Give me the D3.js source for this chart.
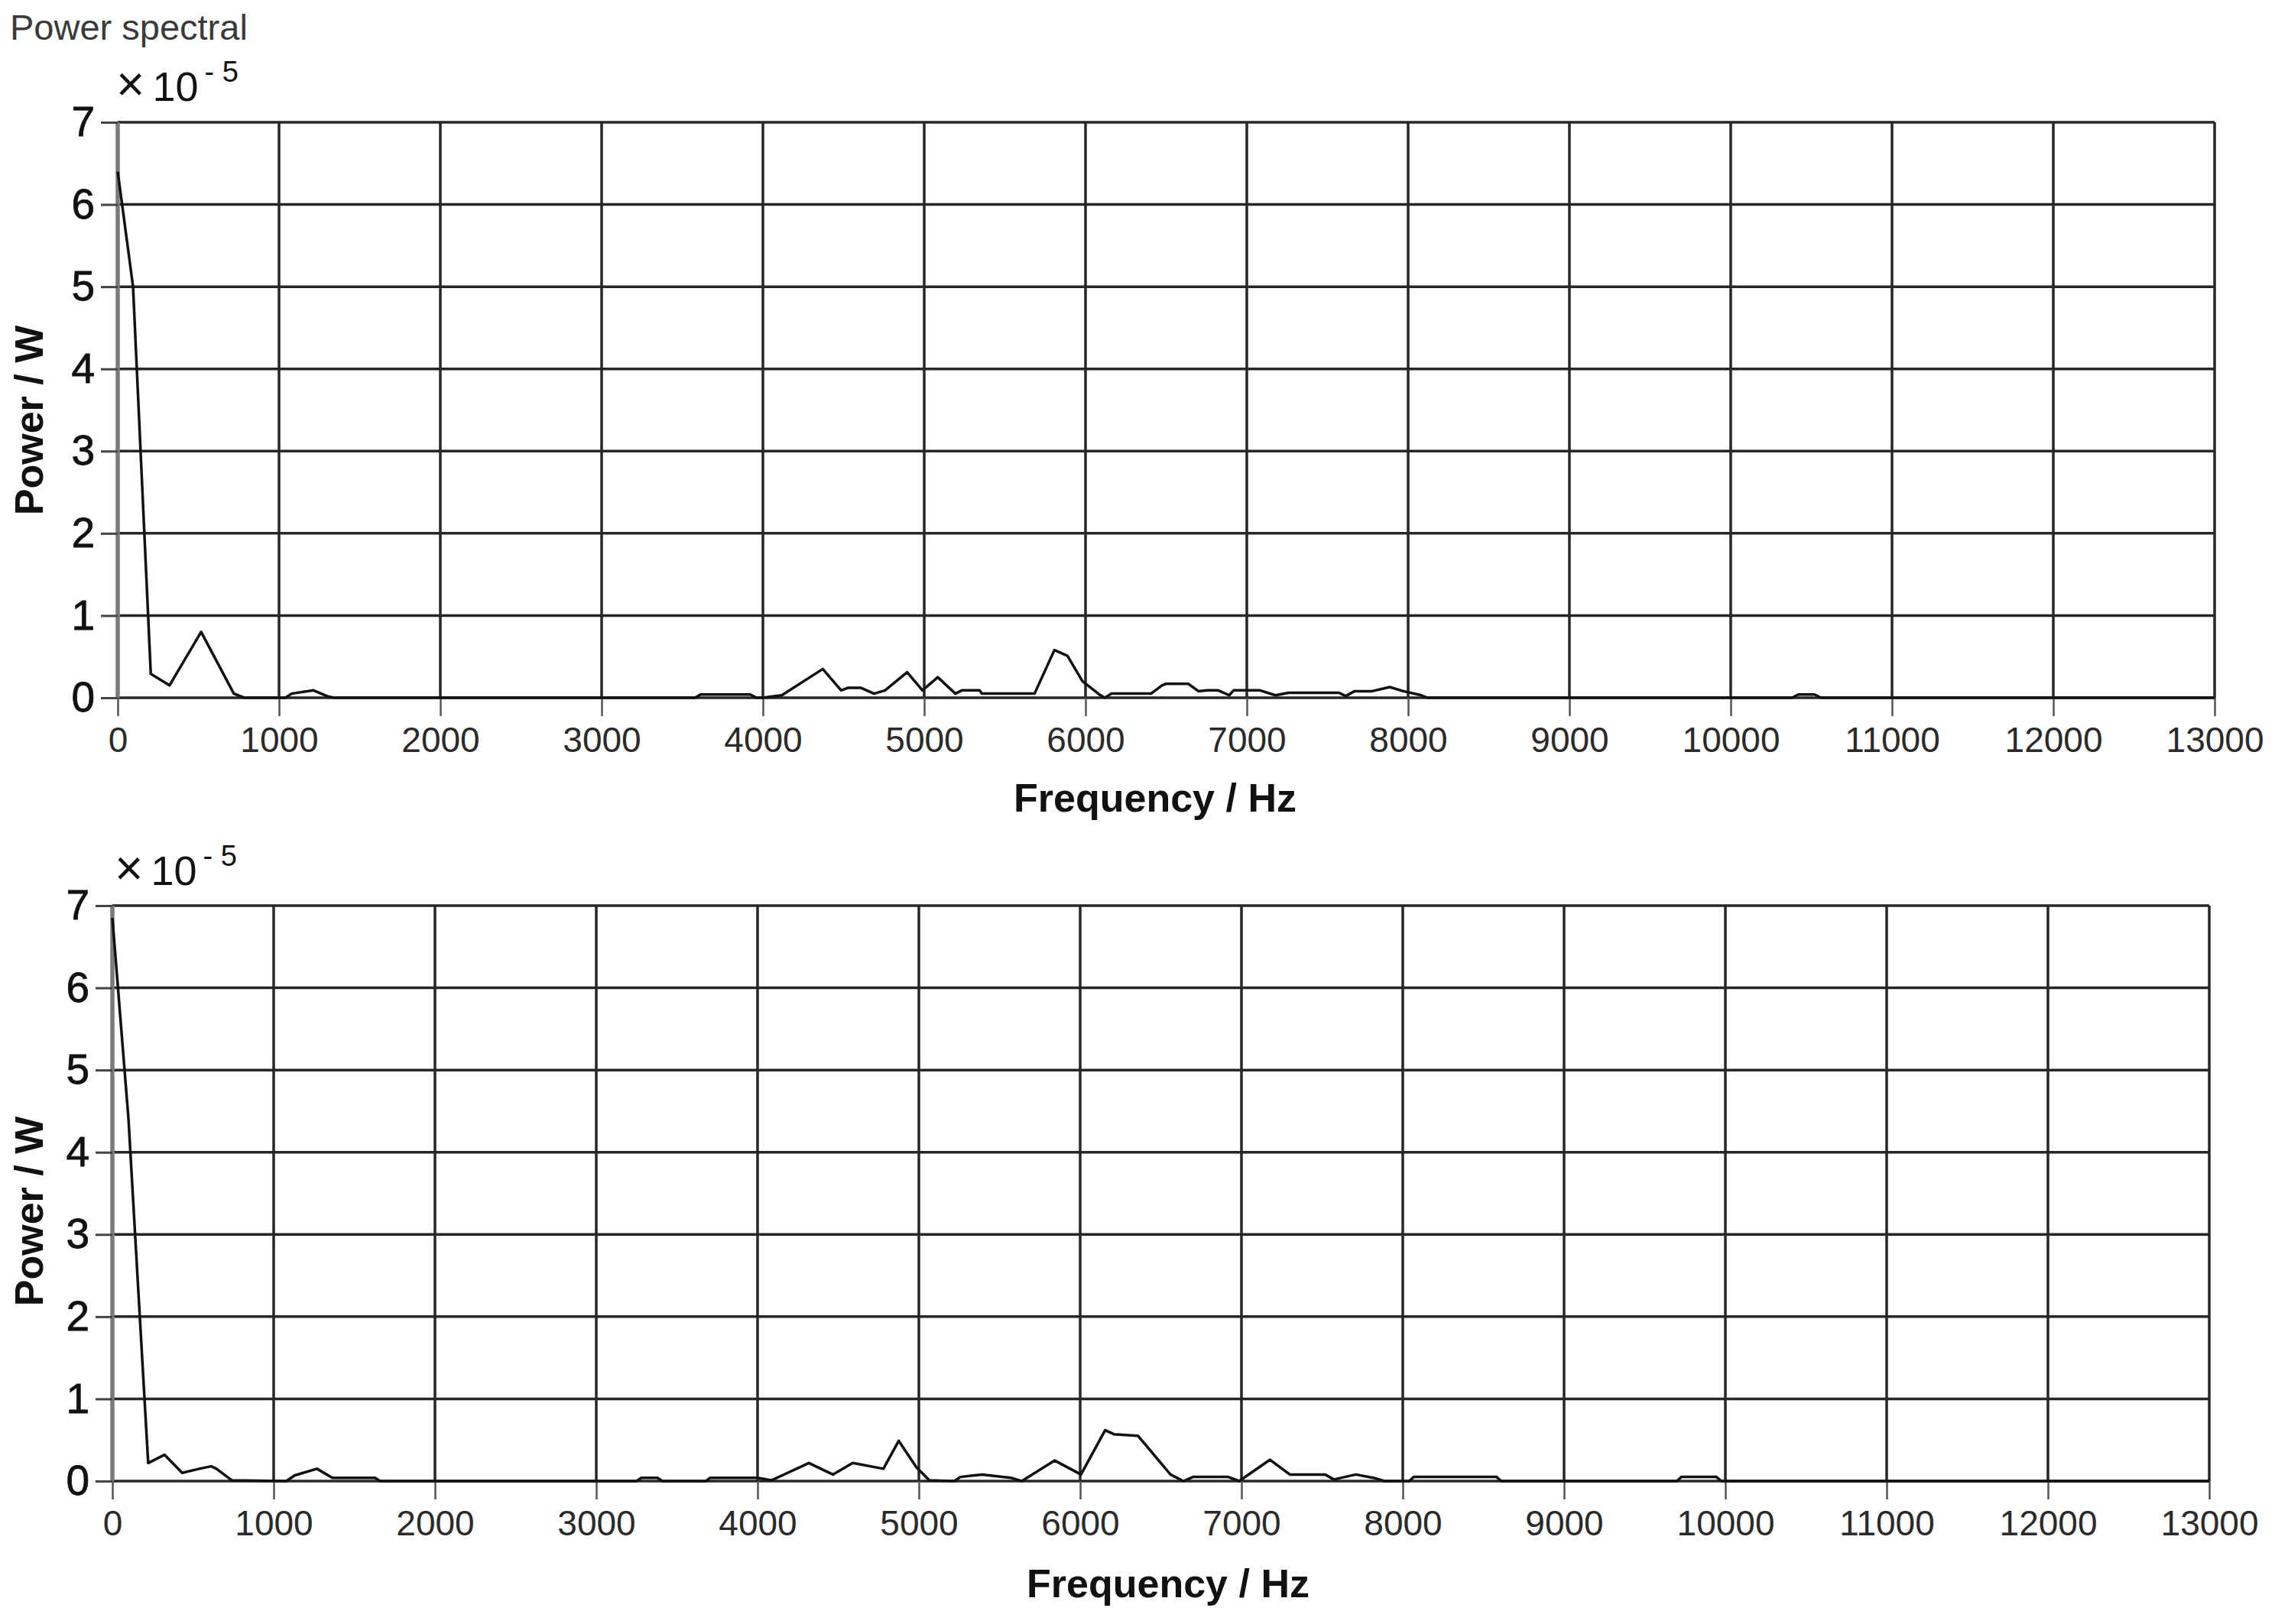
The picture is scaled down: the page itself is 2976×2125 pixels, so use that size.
<!DOCTYPE html>
<html>
<head>
<meta charset="utf-8">
<script src="https://cdn.jsdelivr.net/npm/d3@7"></script>
<style>
  html, body { margin: 0; padding: 0; background: #fff; }
  svg { display: block; }
</style>
</head>
<body>
<script>
// ---------------- DATA ----------------
const chartTitle = "Power spectral";
const xAxisLabel = "Frequency / Hz";
const yAxisLabel = "Power / W";
const xTicks = [0,1000,2000,3000,4000,5000,6000,7000,8000,9000,10000,11000,12000,13000];
const yTicks = [0,1,2,3,4,5,6,7];

// top spectrum (power in units of 1e-5 W)
const topFreq = [0, 95, 205, 321, 517, 720, 784, 1040, 1078, 1214, 1298, 1340,
  3580, 3613, 3921, 3960, 4000, 4117, 4371, 4485, 4526, 4608, 4689, 4757, 4894, 4989,
  5084, 5193, 5234, 5343, 5357, 5684, 5807, 5888, 5981, 6093, 6120, 6160, 6406, 6474,
  6500, 6637, 6700, 6755, 6823, 6891, 6918, 7082, 7177, 7259, 7572, 7613, 7668, 7777,
  7886, 7970, 8082, 8120, 10380, 10420, 10520, 10560, 13000];
const topPower = [6.4, 5.0, 0.29, 0.15, 0.80, 0.05, 0.0, 0.0, 0.05, 0.09, 0.02, 0.0,
  0.0, 0.04, 0.04, 0.0, 0.0, 0.03, 0.35, 0.09, 0.12, 0.12, 0.05, 0.09, 0.31, 0.09,
  0.25, 0.05, 0.09, 0.09, 0.05, 0.05, 0.58, 0.51, 0.20, 0.03, 0.0, 0.05, 0.05, 0.15,
  0.17, 0.17, 0.08, 0.09, 0.09, 0.03, 0.09, 0.09, 0.03, 0.06, 0.06, 0.02, 0.08, 0.08,
  0.13, 0.08, 0.03, 0.0, 0.0, 0.04, 0.04, 0.0, 0.0];

// bottom spectrum
const botFreq = [0, 100, 222, 323, 433, 539, 613, 645, 740, 1078, 1131, 1268, 1364, 1628, 1660,
  3250, 3280, 3380, 3410, 3680, 3707, 4000, 4087, 4318, 4467, 4590, 4780, 4875, 4984, 5065,
  5220, 5257, 5393, 5570, 5638, 5842, 6005, 6155, 6209, 6359, 6560, 6640, 6700, 6918, 6986,
  7177, 7300, 7409, 7518, 7573, 7709, 7818, 7886, 8040, 8068, 8582, 8610, 9700, 9727, 9945,
  9975, 13000];
const botPower = [6.85, 4.4, 0.22, 0.32, 0.10, 0.15, 0.18, 0.15, 0.01, 0.0, 0.07, 0.15, 0.04, 0.04, 0.0,
  0.0, 0.04, 0.04, 0.0, 0.0, 0.04, 0.04, 0.01, 0.22, 0.08, 0.22, 0.15, 0.49, 0.17, 0.01,
  0.0, 0.05, 0.08, 0.04, 0.0, 0.25, 0.08, 0.62, 0.57, 0.55, 0.08, 0.0, 0.05, 0.05, 0.0,
  0.26, 0.08, 0.08, 0.08, 0.02, 0.08, 0.04, 0.0, 0.0, 0.05, 0.05, 0.0, 0.0, 0.05, 0.05,
  0.0, 0.0];

// ---------------- LAYOUT ----------------
const W = 2976, H = 2125;
const FONT = "'Liberation Sans', Arial, sans-serif";

const svg = d3.select("body").append("svg")
  .attr("width", W).attr("height", H)
  .attr("viewBox", `0 0 ${W} ${H}`);

svg.append("rect").attr("width", W).attr("height", H).attr("fill", "#fff");

svg.append("text")
  .attr("x", 13).attr("y", 52)
  .attr("font-family", FONT).attr("font-size", 47)
  .attr("fill", "#3a3a3a")
  .text(chartTitle);

const panels = [
  { freq: topFreq, power: topPower, left: 154, right: 2897, top: 160, bottom: 913,
    expX: 152, expY: 132, xlabX: 1511, xlabY: 1062, ylabY: 550 },
  { freq: botFreq, power: botPower, left: 147, right: 2890, top: 1185, bottom: 1938,
    expX: 150, expY: 1158, xlabX: 1528, xlabY: 2090, ylabY: 1585 }
];

panels.forEach((p, pi) => {
  const x = d3.scaleLinear().domain([0, 13000]).range([p.left, p.right]);
  const y = d3.scaleLinear().domain([0, 7]).range([p.bottom, p.top]);
  const g = svg.append("g");

  // grid: horizontal lines
  g.append("g").selectAll("line").data(yTicks).join("line")
    .attr("x1", p.left).attr("x2", p.right)
    .attr("y1", d => y(d)).attr("y2", d => y(d))
    .attr("stroke", "#262626")
    .attr("stroke-width", 3.5);

  // grid: vertical lines
  g.append("g").selectAll("line").data(xTicks).join("line")
    .attr("x1", d => x(d)).attr("x2", d => x(d))
    .attr("y1", p.top).attr("y2", p.bottom)
    .attr("stroke", d => d === 0 ? "#7a7a7a" : "#262626")
    .attr("stroke-width", d => d === 0 ? 5.5 : 3.5);

  // x axis (ticks + labels)
  const xAxis = d3.axisBottom(x).tickValues(xTicks).tickSize(24).tickPadding(14)
    .tickFormat(d3.format("d"));
  const gx = g.append("g").attr("transform", `translate(0,${p.bottom})`).call(xAxis);
  gx.select(".domain").remove();
  gx.selectAll(".tick line").attr("stroke", "#555").attr("stroke-width", 2.5);
  gx.selectAll(".tick text")
    .attr("font-family", FONT).attr("font-size", 46).attr("fill", "#2a2a2a")
    .attr("dy", "0.72em");

  // y axis (ticks + labels)
  const yAxis = d3.axisLeft(y).tickValues(yTicks).tickSize(22).tickPadding(8)
    .tickFormat(d3.format("d"));
  const gy = g.append("g").attr("transform", `translate(${p.left},0)`).call(yAxis);
  gy.select(".domain").remove();
  gy.selectAll(".tick line").attr("stroke", "#444").attr("stroke-width", 3);
  gy.selectAll(".tick text")
    .attr("font-family", FONT).attr("font-size", 55).attr("fill", "#111")
    .attr("stroke", "#111").attr("stroke-width", 0.8);

  // data line
  const pts = p.freq.map((f, i) => [f, p.power[i]]);
  const line = d3.line().x(d => x(d[0])).y(d => y(d[1]));
  g.append("path").datum(pts)
    .attr("d", line)
    .attr("fill", "none")
    .attr("stroke", "#111")
    .attr("stroke-width", 3.5)
    .attr("stroke-linejoin", "round");

  // exponent label
  const ex = g.append("text")
    .attr("x", p.expX).attr("y", p.expY)
    .attr("font-family", FONT).attr("font-size", 54).attr("fill", "#111");
  ex.append("tspan").attr("font-size", 64).text("\u00d7");
  ex.append("tspan").attr("dx", 10).text("10");
  ex.append("tspan").attr("font-size", 38).attr("dy", -25).attr("dx", 8).text("- 5");

  // x axis label
  g.append("text")
    .attr("x", p.xlabX).attr("y", p.xlabY)
    .attr("text-anchor", "middle")
    .attr("font-family", FONT).attr("font-size", 52).attr("font-weight", "bold")
    .attr("fill", "#111")
    .text(xAxisLabel);

  // y axis label
  g.append("text")
    .attr("transform", `translate(56,${p.ylabY}) rotate(-90)`)
    .attr("text-anchor", "middle")
    .attr("font-family", FONT).attr("font-size", 52).attr("font-weight", "bold")
    .attr("fill", "#111")
    .text(yAxisLabel);
});
</script>
</body>
</html>
